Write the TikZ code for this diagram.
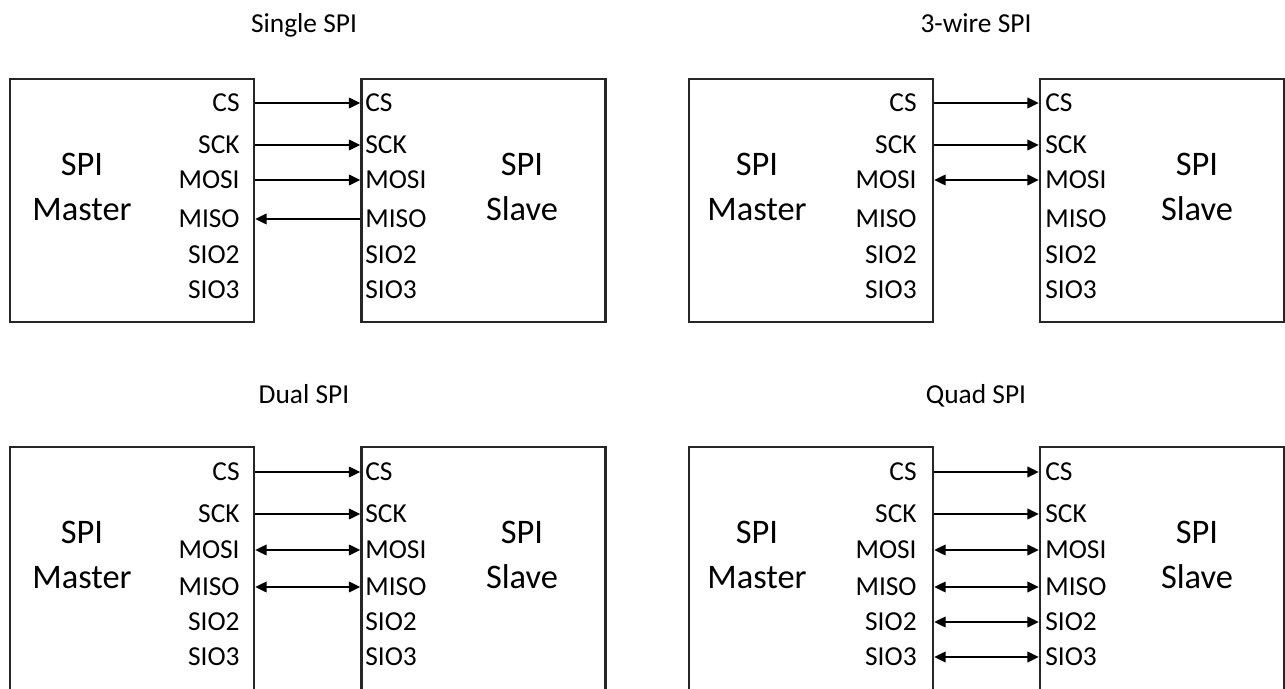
\documentclass[tikz,border=0pt]{standalone}
\usepackage{fontspec}
\setmainfont{Carlito}
\usetikzlibrary{arrows.meta}

\begin{document}
\begin{tikzpicture}[x=0.02cm, y=-0.02cm,
  chip/.style={draw, line width=1.4pt, draw=black!85, minimum width=4.88cm, minimum height=4.86cm, inner sep=0pt},
  pinlabel/.style={inner sep=0pt, font=\fontsize{15.6}{18}\selectfont},
  paneltitle/.style={anchor=base, inner sep=0pt, font=\fontsize{15.6}{18}\selectfont},
  chiplabel/.style={align=center, inner sep=0pt, font=\fontsize{19.6}{25.6}\selectfont},
  wire/.style={line width=1.1pt, -{Triangle[length=6.5pt,width=6pt]}},
  bus/.style={line width=1.1pt, {Triangle[length=6.5pt,width=6pt]}-{Triangle[length=6.5pt,width=6pt]}}
]
\useasboundingbox (0,0) rectangle (1285,689);
\clip (0,0) rectangle (1285,689);

% Single SPI (top left)
\node[paneltitle] (ta) at (304,33) {Single SPI};
\node[chip] (ma) at (132,200.5) {};
\node[chip] (sa) at (483.5,200.5) {};
\node[chiplabel] (na) at (82,187) {SPI\\Master};
\node[chiplabel] (la) at (522,187) {SPI\\Slave};
\foreach \pin/\y in {CS/24, SCK/66, MOSI/101, MISO/140, SIO2/176, SIO3/211} {
  \node[pinlabel, anchor=east] (ma\pin) at (240,79+\y) {\pin};
  \node[pinlabel, anchor=west] (sa\pin) at (365,79+\y) {\pin};
}
\draw[wire] (maCS -| ma.east) -- (saCS -| sa.west);
\draw[wire] (maSCK -| ma.east) -- (saSCK -| sa.west);
\draw[wire] (maMOSI -| ma.east) -- (saMOSI -| sa.west);
\draw[wire] (saMISO -| sa.west) -- (maMISO -| ma.east);

% 3-wire SPI (top right)
\node[paneltitle] (tb) at (976,33) {3-wire SPI};
\node[chip] (mb) at (811,200.5) {};
\node[chip] (sb) at (1162,200.5) {};
\node[chiplabel] (nb) at (757,187) {SPI\\Master};
\node[chiplabel] (lb) at (1197,187) {SPI\\Slave};
\foreach \pin/\y in {CS/24, SCK/66, MOSI/101, MISO/140, SIO2/176, SIO3/211} {
  \node[pinlabel, anchor=east] (mb\pin) at (917,79+\y) {\pin};
  \node[pinlabel, anchor=west] (sb\pin) at (1045,79+\y) {\pin};
}
\draw[wire] (mbCS -| mb.east) -- (sbCS -| sb.west);
\draw[wire] (mbSCK -| mb.east) -- (sbSCK -| sb.west);
\draw[bus] (mbMOSI -| mb.east) -- (sbMOSI -| sb.west);

% Dual SPI (bottom left)
\node[paneltitle] (tc) at (304,403) {Dual SPI};
\node[chip] (mc) at (132,568.5) {};
\node[chip] (sc) at (483.5,568.5) {};
\node[chiplabel] (nc) at (82,555) {SPI\\Master};
\node[chiplabel] (lc) at (522,555) {SPI\\Slave};
\foreach \pin/\y in {CS/25, SCK/67, MOSI/103, MISO/140, SIO2/175, SIO3/210} {
  \node[pinlabel, anchor=east] (mc\pin) at (240,447+\y) {\pin};
  \node[pinlabel, anchor=west] (sc\pin) at (365,447+\y) {\pin};
}
\draw[wire] (mcCS -| mc.east) -- (scCS -| sc.west);
\draw[wire] (mcSCK -| mc.east) -- (scSCK -| sc.west);
\draw[bus] (mcMOSI -| mc.east) -- (scMOSI -| sc.west);
\draw[bus] (mcMISO -| mc.east) -- (scMISO -| sc.west);

% Quad SPI (bottom right)
\node[paneltitle] (td) at (976,403) {Quad SPI};
\node[chip] (md) at (811,568.5) {};
\node[chip] (sd) at (1162,568.5) {};
\node[chiplabel] (nd) at (757,555) {SPI\\Master};
\node[chiplabel] (ld) at (1197,555) {SPI\\Slave};
\foreach \pin/\y in {CS/25, SCK/67, MOSI/103, MISO/140, SIO2/175, SIO3/210} {
  \node[pinlabel, anchor=east] (md\pin) at (917,447+\y) {\pin};
  \node[pinlabel, anchor=west] (sd\pin) at (1045,447+\y) {\pin};
}
\draw[wire] (mdCS -| md.east) -- (sdCS -| sd.west);
\draw[wire] (mdSCK -| md.east) -- (sdSCK -| sd.west);
\draw[bus] (mdMOSI -| md.east) -- (sdMOSI -| sd.west);
\draw[bus] (mdMISO -| md.east) -- (sdMISO -| sd.west);
\draw[bus] (mdSIO2 -| md.east) -- (sdSIO2 -| sd.west);
\draw[bus] (mdSIO3 -| md.east) -- (sdSIO3 -| sd.west);
\end{tikzpicture}
\end{document}
